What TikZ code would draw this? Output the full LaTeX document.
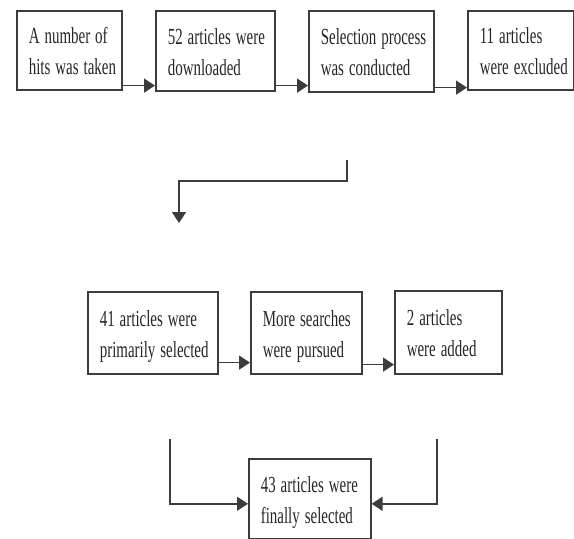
\documentclass[tikz,border=0pt]{standalone}
\usepackage{fontspec}
\setmainfont{Liberation Serif}
\usetikzlibrary{arrows.meta}
\definecolor{linec}{HTML}{3C3C3C}
\definecolor{textc}{HTML}{262626}
\newcommand\nline[1]{\scalebox{0.65}[1]{#1}}
\begin{document}
\begin{tikzpicture}[x=1pt,y=-1pt,
  box/.style={draw=linec, line width=1.6pt, rectangle, inner xsep=12pt, inner ysep=0pt,
    align=left, text height=24pt, text depth=37pt, text=textc,
    font=\fontsize{23}{31}\selectfont, anchor=north west},
  arr/.style={draw=linec, line width=1.6pt, -{Triangle[length=11pt,width=14pt]}},
  ln/.style={draw=linec, line width=1.6pt}]
\useasboundingbox (0,0) rectangle (574,539);
% row 1
\node[box, text width=81pt, minimum height=79pt] (b1) at (16,10) {\nline{A number of}\\\nline{hits was taken}};
\node[box, text width=95pt, minimum height=80pt] (b2) at (155,10) {\nline{52 articles were}\\\nline{downloaded}};
\node[box, text width=101pt, minimum height=81pt] (b3) at (308,10) {\nline{Selection process}\\\nline{was conducted}};
\node[box, text width=82pt, minimum height=79pt] (b4) at (467,10) {\nline{11 articles}\\\nline{were excluded}};
% row 2
\node[box, text width=106pt, minimum height=82pt] (b5) at (87,291) {\nline{41 articles were}\\\nline{primarily selected}};
\node[box, text width=87pt, minimum height=82pt] (b6) at (250,291) {\nline{More searches}\\\nline{were pursued}};
\node[box, text width=83pt, minimum height=83pt] (b7) at (394,290) {\nline{2 articles}\\\nline{were added}};
% final
\node[box, text width=98pt, minimum height=80pt] (b8) at (248,458) {\nline{43 articles were}\\\nline{finally selected}};
% row 1 arrows
\draw[arr] ([yshift=5pt]b1.south east) -- ([yshift=5pt]b1.south east -| b2.west);
\draw[arr] ([yshift=6pt]b2.south east) -- ([yshift=6pt]b2.south east -| b3.west);
\draw[arr] ([yshift=5pt]b3.south east) -- ([yshift=5pt]b3.south east -| b4.west);
% elbow
\coordinate (e0) at (347,160);
\coordinate (ec) at (347,181);
\coordinate (e1) at (179,223);
\draw[arr] (e0) -- (ec) -| (e1);
% row 2 arrows
\draw[arr] ([yshift=12pt]b5.south east) -- ([yshift=12pt]b5.south east -| b6.west);
\draw[arr] ([yshift=10pt]b6.south east) -- ([yshift=10pt]b6.south east -| b7.west);
% to final
\coordinate (l0) at (170,439);
\coordinate (r0) at (437,439);
\draw[arr] (l0) |- ([yshift=-5pt]b8.west);
\draw[arr] (r0) |- ([yshift=-5pt]b8.east);
\end{tikzpicture}
\end{document}
